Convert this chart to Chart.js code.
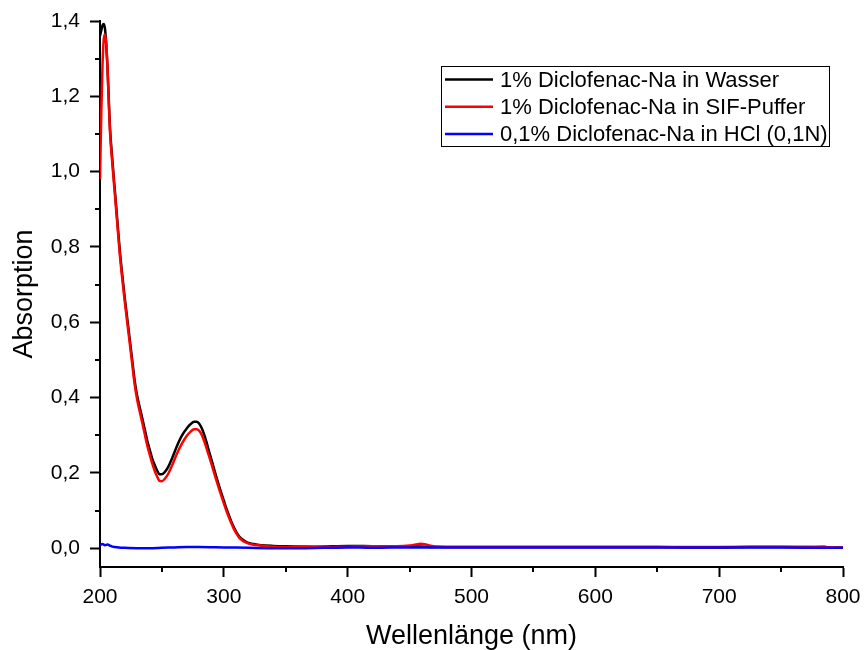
<!DOCTYPE html>
<html><head><meta charset="utf-8">
<script src="https://cdn.jsdelivr.net/npm/chart.js@4.4.0/dist/chart.umd.min.js"></script>
<style>html,body{margin:0;padding:0;background:#fff}canvas{display:block}</style>
</head><body>
<canvas id="c" width="864" height="650"></canvas>
<script>
const seriesLabels = ['1% Diclofenac-Na in Wasser', '1% Diclofenac-Na in SIF-Puffer', '0,1% Diclofenac-Na in HCl (0,1N)'];
const seriesColors = ['#000000', '#ff0000', '#0000ff'];

const wlBlack = [200,201,202,203,204,205,206,207,208,210,212,214,216,218,220,222,224,226,228,230,232,234,236,238,240,242,244,246,248,250,252,255,258,262,266,270,273,276,278,280,282,284,286,288,290,292,294,296,298,300,302,304,306,308,310,312,314,316,318,320,324,330,340,350,375,400,425,450,475,500,525,550,575,600,625,650,675,700,725,750,775,785,790,800];
const absBlack = [1.36,1.375,1.388,1.392,1.38,1.34,1.28,1.20,1.12,1.03,0.95,0.87,0.79,0.725,0.665,0.61,0.555,0.50,0.445,0.405,0.375,0.347,0.318,0.288,0.263,0.24,0.222,0.207,0.196,0.196,0.201,0.215,0.237,0.27,0.298,0.318,0.329,0.336,0.336,0.331,0.32,0.303,0.282,0.258,0.235,0.212,0.189,0.167,0.146,0.126,0.106,0.088,0.071,0.056,0.043,0.033,0.026,0.021,0.017,0.014,0.011,0.008,0.006,0.005,0.004,0.006,0.005,0.005,0.003,0.003,0.003,0.003,0.003,0.003,0.003,0.003,0.002,0.002,0.003,0.003,0.002,0.004,0.001,0.001];

const wlRed = [200,201,202,203,204,205,206,207,208,210,212,214,216,218,220,222,224,226,228,230,232,234,236,238,240,242,244,246,248,250,252,255,258,262,266,270,273,276,278,280,282,284,286,288,290,292,294,296,298,300,302,304,306,308,310,312,314,316,318,320,324,330,340,360,380,400,420,440,450,455,459,463,468,475,500,550,600,650,700,750,775,790,800];
const absRed = [0.98,1.15,1.28,1.35,1.365,1.34,1.28,1.19,1.11,1.02,0.94,0.86,0.78,0.715,0.655,0.60,0.545,0.49,0.435,0.395,0.364,0.335,0.305,0.275,0.25,0.227,0.207,0.191,0.179,0.178,0.183,0.197,0.218,0.25,0.277,0.298,0.309,0.316,0.316,0.312,0.302,0.286,0.266,0.245,0.224,0.202,0.18,0.159,0.139,0.119,0.10,0.083,0.067,0.052,0.04,0.03,0.023,0.018,0.015,0.012,0.009,0.007,0.004,0.003,0.003,0.004,0.005,0.005,0.007,0.010,0.012,0.010,0.006,0.004,0.003,0.003,0.003,0.003,0.003,0.004,0.004,0.002,0.002];

const wlBlue = [200,202,204,206,208,210,215,220,230,240,250,260,270,280,300,320,340,360,380,400,420,450,500,550,600,650,700,750,800];
const absBlue = [0.008,0.011,0.008,0.010,0.007,0.004,0.002,0.001,0.000,0.000,0.001,0.002,0.003,0.003,0.002,0.001,0.000,0.000,0.001,0.002,0.001,0.002,0.002,0.002,0.002,0.002,0.002,0.002,0.001];

const xTicks = [200,300,400,500,600,700,800];
const yTicks = [0.0,0.2,0.4,0.6,0.8,1.0,1.2,1.4];

function pts(xs, ys){ return xs.map((x,i)=>({x:x, y:ys[i]})); }

Chart.defaults.font.family = "'Liberation Sans', Arial, sans-serif";
Chart.defaults.color = '#000';

const minorTicks = {
  id: 'minorTicks',
  afterDraw(chart){
    const ctx = chart.ctx, xs = chart.scales.x, ys = chart.scales.y, a = chart.chartArea;
    ctx.save(); ctx.strokeStyle = '#000'; ctx.lineWidth = 2;
    for (let i = 0; i < xTicks.length - 1; i++) {
      const px = Math.round(xs.getPixelForValue((xTicks[i] + xTicks[i+1]) / 2));
      ctx.beginPath(); ctx.moveTo(px, a.bottom); ctx.lineTo(px, a.bottom + 5); ctx.stroke();
    }
    for (let i = 0; i < yTicks.length - 1; i++) {
      const py = Math.round(ys.getPixelForValue((yTicks[i] + yTicks[i+1]) / 2));
      ctx.beginPath(); ctx.moveTo(a.left, py); ctx.lineTo(a.left - 5, py); ctx.stroke();
    }
    ctx.restore();
  }
};

const boxLegend = {
  id: 'boxLegend',
  afterDraw(chart){
    const ctx = chart.ctx;
    const left = 441, top = 66, w = 388, h = 80, row = 27.3, first = 79.5;
    ctx.save();
    ctx.fillStyle = '#fff'; ctx.fillRect(left, top, w, h);
    ctx.strokeStyle = '#000'; ctx.lineWidth = 1;
    ctx.strokeRect(left + 0.5, top + 0.5, w, h);
    ctx.font = "22px 'Liberation Sans', Arial, sans-serif";
    ctx.textBaseline = 'middle'; ctx.textAlign = 'left';
    chart.data.datasets.forEach((ds, i) => {
      const y = first + i * row;
      ctx.strokeStyle = ds.borderColor; ctx.lineWidth = 2.5;
      ctx.beginPath(); ctx.moveTo(445, y); ctx.lineTo(493, y); ctx.stroke();
      ctx.fillStyle = '#000';
      ctx.fillText(ds.label, 500, y + 1);
    });
    ctx.restore();
  }
};

const chart = new Chart(document.getElementById('c'), {
  type: 'line',
  data: {
    datasets: [
      { label: seriesLabels[0], data: pts(wlBlack, absBlack), borderColor: seriesColors[0], borderWidth: 2.5, order: 2 },
      { label: seriesLabels[1], data: pts(wlRed, absRed), borderColor: seriesColors[1], borderWidth: 2.5, order: 1 },
      { label: seriesLabels[2], data: pts(wlBlue, absBlue), borderColor: seriesColors[2], borderWidth: 2.5, order: 0 }
    ]
  },
  options: {
    responsive: false,
    animation: false,
    events: [],
    layout: { padding: { top: 21, right: 21, left: 0, bottom: 0 } },
    elements: { point: { radius: 0 }, line: { cubicInterpolationMode: 'monotone', fill: false, borderJoinStyle: 'round' } },
    plugins: { legend: { display: false }, tooltip: { enabled: false } },
    scales: {
      x: {
        type: 'linear', min: 200, max: 800,
        afterBuildTicks: s => { s.ticks = xTicks.map(v => ({ value: v })); },
        afterFit: s => { s.height = 83; s.paddingLeft = 0; s.paddingRight = 0; },
        border: { display: true, color: '#000', width: 2 },
        grid: { display: true, drawOnChartArea: false, drawTicks: true, tickLength: 10, tickWidth: 2, tickColor: '#000' },
        ticks: { font: { size: 21 }, color: '#000', padding: 8, maxRotation: 0, callback: v => String(v) },
        title: { display: true, text: 'Wellenlänge (nm)', font: { size: 27 }, color: '#000', padding: { top: 0, bottom: -3 } }
      },
      y: {
        type: 'linear', min: -0.05, max: 1.4,
        afterBuildTicks: s => { s.ticks = yTicks.map(v => ({ value: v })); },
        afterFit: s => { s.width = 100; s.paddingTop = 0; s.paddingBottom = 0; },
        border: { display: true, color: '#000', width: 2 },
        grid: { display: true, drawOnChartArea: false, drawTicks: true, tickLength: 10, tickWidth: 2, tickColor: '#000' },
        ticks: { font: { size: 21 }, color: '#000', padding: 10, callback: v => v.toFixed(1).replace('.', ',') },
        title: { display: true, text: 'Absorption', font: { size: 27 }, color: '#000', padding: { top: 8, bottom: 0 } }
      }
    }
  },
  plugins: [minorTicks, boxLegend]
});
</script>
</body></html>
